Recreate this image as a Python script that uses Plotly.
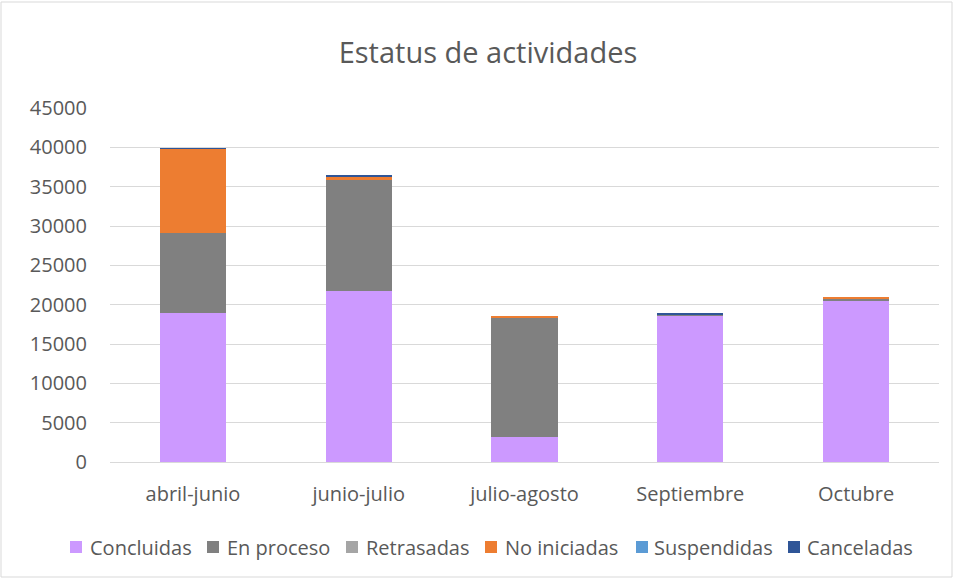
import plotly.graph_objects as go

categories = ["abril-junio", "junio-julio", "julio-agosto", "Septiembre", "Octubre"]
concluidas = [19000, 21800, 3200, 18650, 20550]
en_proceso = [10100, 14000, 15150, 80, 250]
retrasadas = [0, 0, 0, 0, 0]
no_iniciadas = [10700, 500, 200, 0, 150]
suspendidas = [0, 0, 0, 0, 0]
canceladas = [100, 150, 0, 100, 0]
series_names = ["Concluidas", "En proceso", "Retrasadas", "No iniciadas", "Suspendidas", "Canceladas"]

series_values = [concluidas, en_proceso, retrasadas, no_iniciadas, suspendidas, canceladas]
colors = ["#CC99FF", "#808080", "#A5A5A5", "#ED7D31", "#5B9BD5", "#2F5597"]

FONT = "'Open Sans', sans-serif"
TXT = "#595959"

W, H = 954, 579
L, R, T, B = 110, 15, 108, 117
pw, ph = W - L - R, H - T - B


def px(x):
    return (x - L) / pw


def py(y):
    return (T + ph - y) / ph


fig = go.Figure()
for name, vals, col in zip(series_names, series_values, colors):
    fig.add_trace(go.Bar(name=name, x=categories, y=vals, marker_color=col,
                         marker_line_width=0, showlegend=False))

fig.update_layout(
    width=W, height=H,
    barmode="stack", bargap=0.6,
    margin=dict(l=L, r=R, t=T, b=B),
    paper_bgcolor="white", plot_bgcolor="white",
    font=dict(family=FONT, size=20, color=TXT),
    title=dict(text="Estatus de actividades", x=px(488), xref="paper",
               xanchor="center", y=1 - 53 / H, yanchor="middle",
               font=dict(size=29, color=TXT, family=FONT)),
    xaxis=dict(showline=True, linecolor="#D9D9D9", linewidth=1,
               ticks="", tickfont=dict(size=20, color=TXT),
               ticklabelstandoff=14),
    yaxis=dict(range=[0, 45000], dtick=5000, tickformat="d", showgrid=True,
               gridcolor="#D9D9D9", gridwidth=1, zeroline=False,
               tickfont=dict(size=20, color=TXT), ticks="",
               ticklabelstandoff=22),
    showlegend=False,
)

# outer chart border
fig.add_shape(type="rect", xref="paper", yref="paper",
              x0=px(1), x1=px(952), y0=py(577), y1=py(2),
              line=dict(color="#D9D9D9", width=1), fillcolor="rgba(0,0,0,0)",
              layer="below")

# custom legend (layout positions in pixels)
legend_marker_x = [70, 207, 346, 485, 636, 788]
legend_text_x = [90, 227, 366, 505, 654, 807]
legend_y = 547
msz = 12
for name, col, mx, tx in zip(series_names, colors, legend_marker_x, legend_text_x):
    fig.add_shape(type="rect", xref="paper", yref="paper",
                  x0=px(mx), x1=px(mx + msz), y0=py(legend_y + msz / 2),
                  y1=py(legend_y - msz / 2), line=dict(width=0), fillcolor=col)
    fig.add_annotation(text=name, xref="paper", yref="paper", x=px(tx - 2),
                       y=py(legend_y), xanchor="left", yanchor="middle",
                       showarrow=False, font=dict(size=20, color=TXT, family=FONT))

fig.write_html("out.html", config={"displayModeBar": False},
               post_script="document.body.style.margin='0px';")
